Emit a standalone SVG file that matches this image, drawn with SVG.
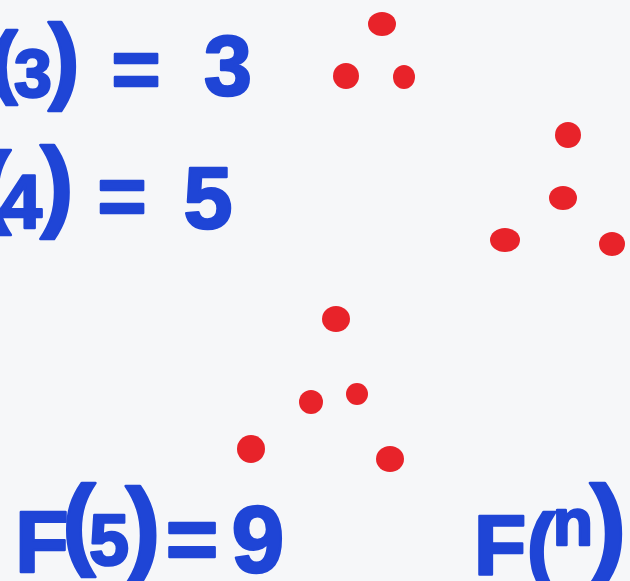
<svg xmlns="http://www.w3.org/2000/svg" width="630" height="581" viewBox="0 0 630 581">
<style>
.t{font-family:"Liberation Sans","DejaVu Sans",sans-serif;font-weight:bold;fill:#1f45d6;stroke:#1f45d6;stroke-width:2.5;stroke-linejoin:round;text-anchor:middle}
.d{fill:#e8232a}
</style>
<rect width="630" height="581" fill="#f6f7f9"/>
<g id="eq3">
<text class="t"><tspan x="4" y="88" font-size="80">(</tspan><tspan x="33" y="97" font-size="68">3</tspan><tspan x="64" y="91" font-size="94">)</tspan><tspan x="136" y="98" font-size="84">=</tspan><tspan x="228" y="95" font-size="86">3</tspan></text>
</g>
<g id="eq4">
<text class="t"><tspan x="-4" y="216" font-size="90">(</tspan><tspan x="21" y="228" font-size="76">4</tspan><tspan x="57" y="218" font-size="100">)</tspan><tspan x="122" y="225" font-size="84">=</tspan><tspan x="208" y="228" font-size="88">5</tspan></text>
</g>
<g id="eq5">
<text class="t"><tspan x="42" y="572" font-size="88">F</tspan><tspan x="79" y="556" font-size="100">(</tspan><tspan x="109" y="565" font-size="72">5</tspan><tspan x="143" y="563" font-size="105">)</tspan><tspan x="192" y="570" font-size="90">=</tspan><tspan x="258" y="572" font-size="95">9</tspan></text>
</g>
<g id="eqn">
<text class="t"><tspan x="500" y="575" font-size="86">F</tspan><tspan x="541" y="574" font-size="86">(</tspan><tspan x="573" y="545" font-size="66">n</tspan><tspan x="608" y="562" font-size="110">)</tspan></text>
</g>
<g id="dots3">
<ellipse class="d" cx="382" cy="24" rx="14" ry="12"/>
<ellipse class="d" cx="346" cy="76" rx="13" ry="13"/>
<ellipse class="d" cx="404" cy="77" rx="11" ry="12"/>
</g>
<g id="dots4">
<ellipse class="d" cx="568" cy="135" rx="13" ry="13"/>
<ellipse class="d" cx="563" cy="198" rx="14" ry="12"/>
<ellipse class="d" cx="505" cy="240" rx="15" ry="12"/>
<ellipse class="d" cx="612" cy="244" rx="13" ry="12"/>
</g>
<g id="dots5">
<ellipse class="d" cx="336" cy="319" rx="14" ry="13"/>
<ellipse class="d" cx="311" cy="402" rx="12" ry="12"/>
<ellipse class="d" cx="357" cy="394" rx="11" ry="11"/>
<ellipse class="d" cx="251" cy="449" rx="14" ry="14"/>
<ellipse class="d" cx="390" cy="459" rx="14" ry="13"/>
</g>
</svg>
